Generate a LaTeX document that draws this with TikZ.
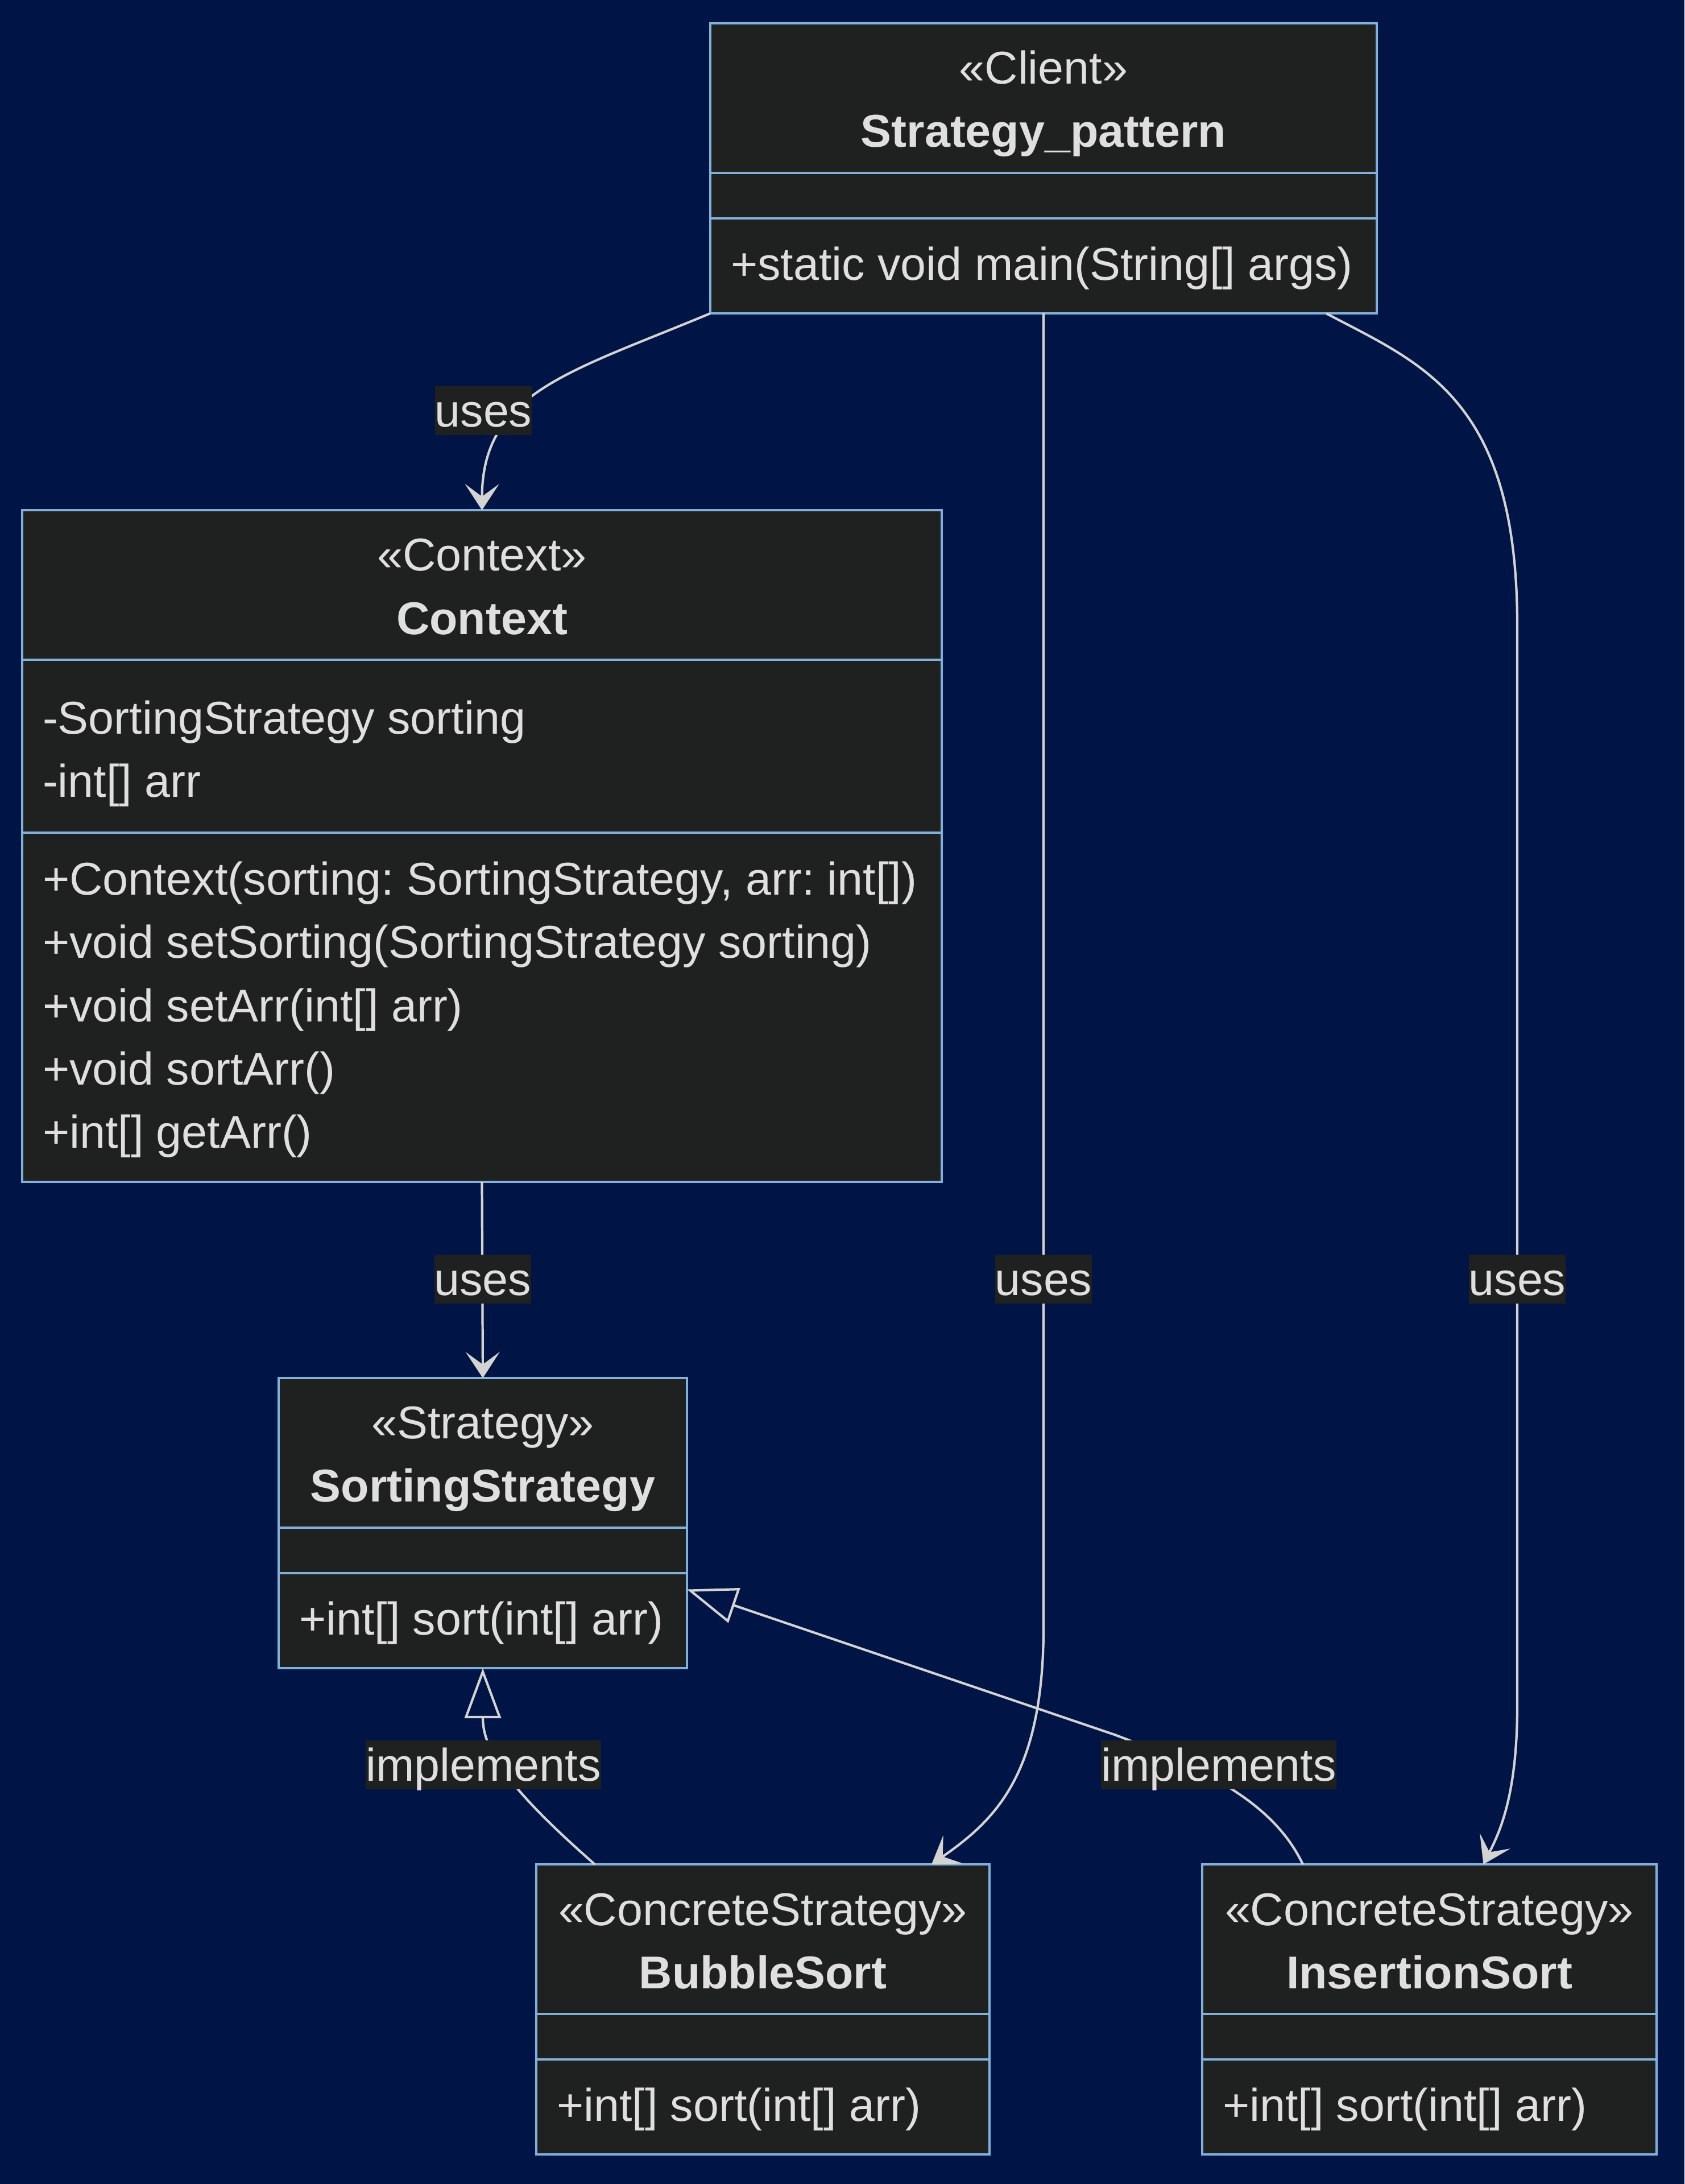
\documentclass[tikz,border=0pt]{standalone}
\usepackage{fontspec}
\setmainfont{Liberation Sans}
\usetikzlibrary{arrows.meta}
\frenchspacing

\definecolor{bgnavy}{HTML}{001446}
\definecolor{boxfill}{HTML}{1F2020}
\definecolor{boxline}{HTML}{81B1DB}
\definecolor{txtgray}{HTML}{E0DFDF}
\definecolor{edgegray}{HTML}{D3D3D3}

\begin{document}
\begin{tikzpicture}[x=1cm, y=-1cm,
    every node/.style={font=\fontsize{23}{31.6}\selectfont, text=txtgray},
    umlbox/.style={draw=boxline, fill=boxfill, line width=1.3pt, outer sep=0pt, inner xsep=0.36cm, inner ysep=0pt, anchor=north west},
    hdr/.style={umlbox, align=flush center, execute at begin node={\rule{0pt}{0.79cm}}, execute at end node={\rule[-0.17cm]{0pt}{0.17cm}}},
    cpt/.style={umlbox, align=flush left},
    attrs/.style={cpt, execute at begin node={\rule{0pt}{0.88cm}}, execute at end node={\rule[-0.2cm]{0pt}{0.2cm}}},
    meths/.style={cpt, execute at begin node={\rule{0pt}{0.70cm}}, execute at end node={\rule[-0.2cm]{0pt}{0.2cm}}},
    lbl/.style={fill=boxfill, inner sep=0pt, text height=0.71cm, text depth=0.15cm},
    uses/.style={draw=edgegray, line width=1.2pt, -{Stealth[length=0.46cm, width=0.6cm, inset=0.22cm]}},
    impl/.style={draw=edgegray, line width=1.2pt, -{Triangle[open, length=0.88cm, width=0.64cm, fill=bgnavy]}}]
    \fill[bgnavy] (0,0) rectangle (29.62,38.40);
    \useasboundingbox (0,0) rectangle (29.62,38.40);
    % Client
    \node[hdr, text width=11.00cm, minimum height=2.63cm] (cl) at (12.49,0.41) {«Client»\\\textbf{Strategy\_pattern}};
    \node[cpt, text width=11.00cm, minimum height=0.80cm] (clA) at (cl.south west) {};
    \node[meths, text width=11.00cm, minimum height=1.67cm] (clM) at (clA.south west) {+static void main(String[] args)};
    % Context
    \node[hdr, text width=15.45cm, minimum height=2.63cm] (ctx) at (0.39,8.97) {«Context»\\\textbf{Context}};
    \node[attrs, text width=15.45cm, minimum height=3.04cm] (ctxA) at (ctx.south west) {-SortingStrategy sorting\\-int[] arr};
    \node[meths, text width=15.45cm, minimum height=6.14cm] (ctxM) at (ctxA.south west) {+Context(sorting: SortingStrategy, arr: int[])\\+void setSorting(SortingStrategy sorting)\\+void setArr(int[] arr)\\+void sortArr()\\+int[] getArr()};
    % Strategy
    \node[hdr, text width=6.46cm, minimum height=2.63cm] (ss) at (4.90,24.23) {«Strategy»\\\textbf{SortingStrategy}};
    \node[cpt, text width=6.46cm, minimum height=0.80cm] (ssA) at (ss.south west) {};
    \node[meths, text width=6.46cm, minimum height=1.67cm] (ssM) at (ssA.south west) {+int[] sort(int[] arr)};
    % Concrete strategies
    \node[hdr, text width=7.25cm, minimum height=2.63cm] (bs) at (9.43,32.78) {«ConcreteStrategy»\\\textbf{BubbleSort}};
    \node[cpt, text width=7.25cm, minimum height=0.80cm] (bsA) at (bs.south west) {};
    \node[meths, text width=7.25cm, minimum height=1.67cm] (bsM) at (bsA.south west) {+int[] sort(int[] arr)};
    \node[hdr, text width=7.27cm, minimum height=2.63cm] (is) at (21.14,32.78) {«ConcreteStrategy»\\\textbf{InsertionSort}};
    \node[cpt, text width=7.27cm, minimum height=0.80cm] (isA) at (is.south west) {};
    \node[meths, text width=7.27cm, minimum height=1.67cm] (isM) at (isA.south west) {+int[] sort(int[] arr)};
    % uses
    \draw[uses] (clM.south west) .. controls (10.00,6.55) and (8.48,6.90) .. (ctx.north);
    \draw[uses] (ctxM.south) -- (ss.north);
    \draw[uses] (clM.south) -- (18.35,28.60) .. controls (18.35,31.20) and (17.50,32.00) .. ([xshift=-1.02cm]bs.north east);
    \draw[uses] ([xshift=-0.89cm]clM.south east) .. controls (25.00,6.40) and (26.68,7.00) .. (26.68,11.00) -- (26.68,30.00) .. controls (26.68,31.60) and (26.35,32.25) .. ([xshift=0.95cm]is.north);
    % implements
    \draw[impl] ([xshift=1.03cm]bs.north west) .. controls (9.00,31.50) and (8.49,30.80) .. (ssM.south);
    \draw[impl] ([xshift=1.77cm]is.north west) .. controls (22.40,31.70) and (21.20,31.10) .. (19.60,30.50) -- ([yshift=0.55cm]ssM.east);
    % labels
    \node[lbl] (u1) at (8.50,7.22) {uses};
    \node[lbl] (u2) at (8.49,22.49) {uses};
    \node[lbl] (u3) at (18.35,22.49) {uses};
    \node[lbl] (u4) at (26.68,22.49) {uses};
    \node[lbl] (i1) at (8.50,31.03) {implements};
    \node[lbl] (i2) at (21.43,31.03) {implements};
\end{tikzpicture}
\end{document}
